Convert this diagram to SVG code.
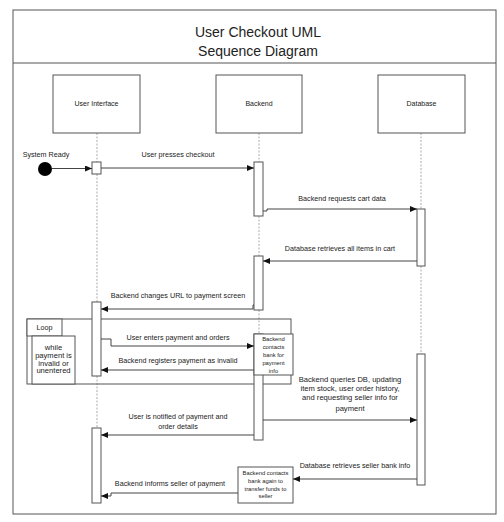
<svg xmlns="http://www.w3.org/2000/svg" width="504" height="522" viewBox="0 0 504 522">
<style>
text{font-family:"Liberation Sans",Arial,sans-serif;fill:#222;text-anchor:middle}
.t{font-size:14px}
.n{font-size:7px}
.m{font-size:7.2px}
.q{font-size:7.6px}
.s{font-size:5.8px}
.box{fill:#fff;stroke:#555;stroke-width:1}
.bar{fill:#fff;stroke:#555;stroke-width:1}
.life{stroke:#aaa;stroke-width:1;stroke-dasharray:2,1.5;fill:none}
.msg{stroke:#444;stroke-width:1;fill:none;marker-end:url(#ah)}
.frm{fill:none;stroke:#555;stroke-width:1}
</style>
<defs>
<marker id="ah" markerUnits="userSpaceOnUse" markerWidth="7" markerHeight="6" refX="7" refY="3" orient="auto">
<path d="M0,0 L7,3 L0,6 z" fill="#111"/>
</marker>
</defs>
<rect width="504" height="522" fill="#fff"/>
<g id="frame">
<rect class="frm" x="13" y="10" width="483" height="504"/>
<line class="frm" x1="13" y1="63" x2="496" y2="63"/>
<text class="t" x="258" y="37">User Checkout UML</text>
<text class="t" x="258" y="56">Sequence Diagram</text>
</g>
<g id="lifelines">
<path class="life" d="M97,133 V162 M97,174 V302 M97,376 V428"/>
<path class="life" d="M259,133 V162 M259,216 V256 M259,310 V334"/>
<path class="life" d="M421,133 V209 M421,266 V354"/>
</g>
<g id="ui">
<rect class="box" x="53" y="75" width="87" height="58"/>
<text class="n" x="96.5" y="106">User Interface</text>
</g>
<g id="backend">
<rect class="box" x="216" y="75" width="86" height="58"/>
<text class="n" x="259" y="106">Backend</text>
</g>
<g id="database">
<rect class="box" x="378" y="75" width="87" height="58"/>
<text class="n" x="421.5" y="106">Database</text>
</g>
<g id="start">
<circle cx="45" cy="169" r="7" fill="#000"/>
<text class="m" x="46" y="157">System Ready</text>
</g>
<g id="loop">
<rect class="frm" x="27" y="319" width="264" height="65"/>
<rect class="box" x="27" y="319" width="35" height="17"/>
<text class="m" x="44.5" y="330">Loop</text>
<rect class="box" x="32" y="336" width="43" height="48"/>
<text class="q" x="53.5" y="350">while</text>
<text class="q" x="53.5" y="358">payment is</text>
<text class="q" x="53.5" y="365.5">invalid or</text>
<text class="q" x="53.5" y="373">unentered</text>
</g>
<g id="activations">
<rect class="bar" x="92" y="162" width="9" height="12"/>
<rect class="bar" x="254" y="162" width="9" height="54"/>
<rect class="bar" x="417" y="209" width="8" height="57"/>
<rect class="bar" x="254" y="256" width="9" height="54"/>
<rect class="bar" x="92" y="302" width="9" height="74"/>
<rect class="bar" x="254" y="334" width="9" height="106"/>
<rect class="bar" x="417" y="354" width="8" height="131"/>
<rect class="bar" x="92" y="428" width="9" height="75"/>
</g>
<g id="bank1">
<rect class="box" x="254" y="334" width="39" height="41"/>
<text class="s" x="273.5" y="341">Backend</text>
<text class="s" x="273.5" y="349">contacts</text>
<text class="s" x="273.5" y="357">bank for</text>
<text class="s" x="273.5" y="365">payment</text>
<text class="s" x="273.5" y="373">info</text>
</g>
<g id="bank2">
<rect class="box" x="238" y="467" width="55" height="36"/>
<text class="s" x="265.5" y="475">Backend contacts</text>
<text class="s" x="265.5" y="483">bank again to</text>
<text class="s" x="265.5" y="490.5">transfer funds to</text>
<text class="s" x="265.5" y="498">seller</text>
</g>
<g id="connectors">
<path class="msg" d="M52,168.5 H92"/>
<path class="msg" d="M101,168 H254"/>
<path class="msg" d="M263,211 H267 V209 H417"/>
<path class="msg" d="M417,261 H263"/>
<path class="msg" d="M254,305 H253 V309 H101"/>
<path class="msg" d="M101,339 H111 V346 H254"/>
<path class="msg" d="M254,370 H101"/>
<path class="msg" d="M263,420 H417"/>
<path class="msg" d="M254,435 H101"/>
<path class="msg" d="M417,479 H293"/>
<path class="msg" d="M238,493 H111 V496 H101"/>
</g>
<g id="labels">
<text class="m" x="178" y="157">User presses checkout</text>
<text class="m" x="342" y="201">Backend requests cart data</text>
<text class="m" x="340" y="251">Database retrieves all items in cart</text>
<text class="m" x="178" y="298">Backend changes URL to payment screen</text>
<text class="m" x="178" y="340">User enters payment and orders</text>
<text class="m" x="178" y="363">Backend registers payment as invalid</text>
<text class="q" x="350" y="382">Backend queries DB, updating</text>
<text class="q" x="350" y="391">item stock, user order history,</text>
<text class="q" x="350" y="400">and requesting seller info for</text>
<text class="q" x="350" y="411">payment</text>
<text class="m" x="178" y="419">User is notified of payment and</text>
<text class="m" x="178" y="429">order details</text>
<text class="m" x="355" y="468">Database retrieves seller bank info</text>
<text class="m" x="170" y="486">Backend informs seller of payment</text>
</g>
</svg>
